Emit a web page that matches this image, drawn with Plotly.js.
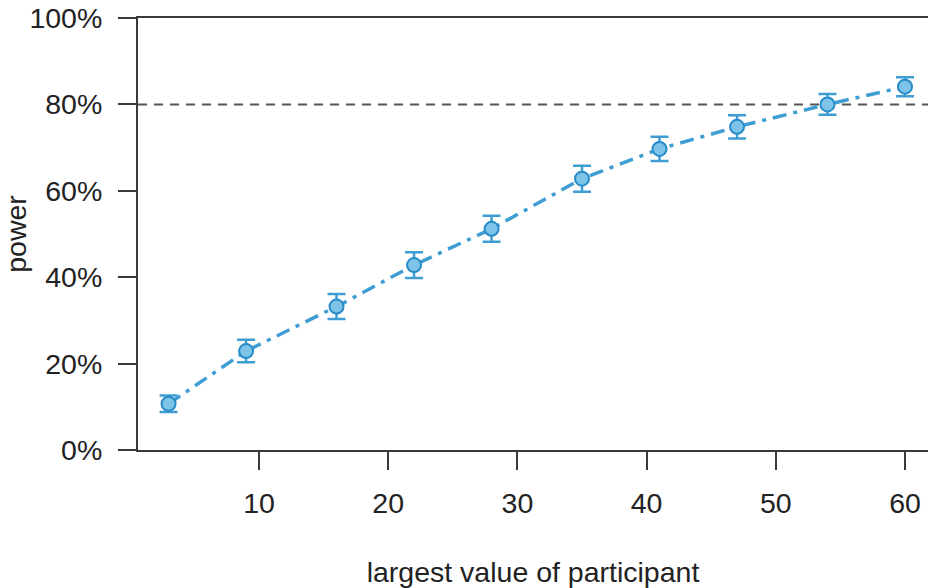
<!DOCTYPE html>
<html>
<head>
<meta charset="utf-8">
<script src="https://cdn.plot.ly/plotly-3.0.1.min.js"></script>
<style>html,body{margin:0;padding:0;background:#fff;}#chart{width:928px;height:588px;}</style>
</head>
<body>
<div id="chart"></div>
<script>
// Data
const largestValue = [3, 9, 16, 22, 28, 35, 41, 47, 54, 60];
const powerPct = [10.7, 22.9, 33.2, 42.8, 51.2, 62.8, 69.7, 74.8, 80.0, 84.1];
const errorPct = [1.9, 2.6, 2.9, 3.0, 3.0, 3.0, 2.8, 2.7, 2.4, 2.2];
const targetPower = 80;
const yTicks = [0, 20, 40, 60, 80, 100];
const xTicks = [10, 20, 30, 40, 50, 60];

const font = {family: 'Liberation Sans, Arial, Helvetica, sans-serif', size: 28.5, color: '#222'};
const blue = 'rgb(62,158,212)';

const traces = [
  {
    x: largestValue,
    y: powerPct,
    type: 'scatter',
    mode: 'lines+markers',
    line: {color: blue, width: 3.5, dash: '14px,7px,4px,7px'},
    marker: {size: 14, color: 'rgb(125,196,232)', line: {color: 'rgb(40,140,200)', width: 2}},
    error_y: {type: 'data', array: errorPct, visible: true, color: blue, thickness: 2.5, width: 9},
    showlegend: false,
    hoverinfo: 'x+y'
  }
];

const layout = {
  width: 928, height: 588,
  margin: {l: 138, r: 0, t: 18, b: 138},
  paper_bgcolor: '#fff', plot_bgcolor: '#fff',
  font: font,
  showlegend: false,
  xaxis: {
    range: [0.635, 61.78],
    tickvals: xTicks,
    ticks: 'outside', ticklen: 18, tickwidth: 2, tickcolor: '#3a3a3a',
    showline: true, linecolor: '#3a3a3a', linewidth: 2, mirror: true,
    showgrid: false, zeroline: false,
    ticklabelstandoff: 9,
    tickfont: font,
    title: {text: 'largest value of participant', font: font, standoff: 44}
  },
  yaxis: {
    range: [0, 100],
    tickvals: yTicks,
    ticktext: yTicks.map(v => v + '%'),
    ticks: 'outside', ticklen: 18, tickwidth: 2, tickcolor: '#3a3a3a',
    showline: true, linecolor: '#3a3a3a', linewidth: 2, mirror: false,
    showgrid: false, zeroline: false,
    ticklabelstandoff: 10,
    tickfont: font,
    title: {text: 'power', font: font, standoff: 0}
  },
  shapes: [
    {type: 'line', xref: 'paper', x0: 0, x1: 1, yref: 'y', y0: targetPower, y1: targetPower,
     line: {color: '#555', width: 2, dash: '9px,7px'}, layer: 'below'}
  ]
};

Plotly.newPlot('chart', traces, layout, {displayModeBar: false, staticPlot: true});
</script>
</body>
</html>
